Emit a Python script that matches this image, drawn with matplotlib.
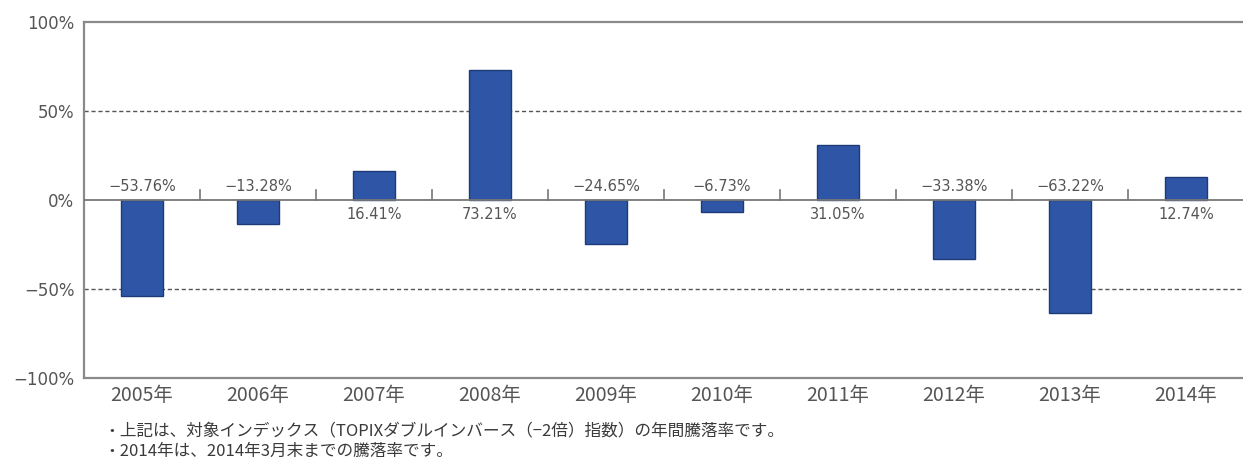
import matplotlib
matplotlib.use("Agg")
import matplotlib.pyplot as plt

years = ["2005年", "2006年", "2007年", "2008年", "2009年",
         "2010年", "2011年", "2012年", "2013年", "2014年"]
values = [-53.76, -13.28, 16.41, 73.21, -24.65, -6.73, 31.05, -33.38, -63.22, 12.74]
yticks = [-100, -50, 0, 50, 100]
ytick_labels = ["−100%", "−50%", "0%", "50%", "100%"]
notes = ["・上記は、対象インデックス（TOPIXダブルインバース（−2倍）指数）の年間騰落率です。",
         "・2014年は、2014年3月末までの騰落率です。"]

TXT = "#555555"
SP = "#8a8a8a"
CJK = ["Noto Sans CJK JP", "DejaVu Sans"]
fig = plt.figure(figsize=(12.43, 4.61), dpi=100)
ax = fig.add_axes([84/1243, 1-378/461, 1160/1243, 356/461])

x = list(range(len(years)))
ax.bar(x, values, width=0.36, color="#2f56a6", edgecolor="#1e3a78", linewidth=1.0, zorder=3)

ax.set_xlim(-0.5, len(years) - 0.5)
ax.set_ylim(-100, 100)
ax.set_yticks(yticks)
ax.set_yticklabels(ytick_labels, fontsize=12, color=TXT, family="DejaVu Sans")
ax.set_xticks(x)
ax.set_xticklabels(years, fontsize=14, color=TXT, family=CJK)
ax.tick_params(axis="both", length=0)
ax.tick_params(axis="y", pad=7)
ax.tick_params(axis="x", pad=5)

for s in ["left", "top", "bottom"]:
    ax.spines[s].set_color(SP)
    ax.spines[s].set_linewidth(1.6)
ax.spines["right"].set_visible(False)

for yv in (50, -50):
    ax.axhline(yv, color="#555555", linewidth=1.0, linestyle=(0, (3, 2)), zorder=1)
ax.axhline(0, color="#777777", linewidth=1.3, zorder=4)

# small separators on the zero line between categories
bounds = [i + 0.5 for i in x[:-1]]
for b in bounds:
    ax.plot([b, b], [0, 5.6], color="#777777", linewidth=1.2, zorder=4)

for xi, v in zip(x, values):
    lab = f"{v:.2f}%".replace("-", "−")
    if v < 0:
        ax.annotate(lab, xy=(xi, 0), xytext=(0, 4), textcoords="offset points",
                    ha="center", va="bottom", fontsize=10.5, color=TXT, family="DejaVu Sans")
    else:
        ax.annotate(lab, xy=(xi, 0), xytext=(0, -5), textcoords="offset points",
                    ha="center", va="top", fontsize=10.5, color=TXT, family="DejaVu Sans")

fig.text(103/1243, 1-431/461, notes[0], fontsize=12, color="#3a3a3a",
         family=CJK, va="center")
fig.text(103/1243, 1-451/461, notes[1], fontsize=12, color="#3a3a3a",
         family=CJK, va="center")

fig.savefig("out.png", dpi=100)
